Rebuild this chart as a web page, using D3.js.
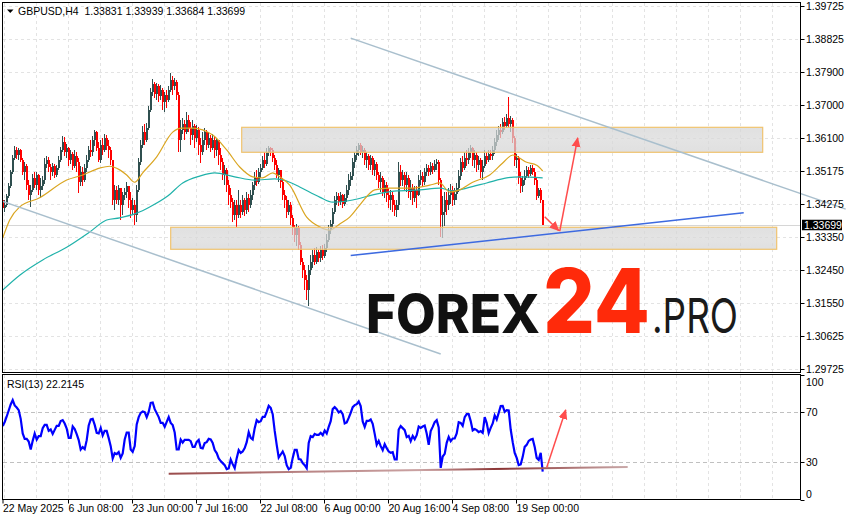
<!DOCTYPE html>
<html><head><meta charset="utf-8">
<script src="https://cdn.jsdelivr.net/npm/d3@7"></script>
<style>
html,body{margin:0;padding:0;background:#fff;}
svg{display:block;}
.t{font-family:"Liberation Sans Narrow","Liberation Sans",Arial,sans-serif;font-size:10.5px;fill:#000;}
</style></head><body>
<svg id="c" width="846" height="520"></svg>
<script>
// ---------------- DATA ----------------
const symbolTitle = "GBPUSD,H4  1.33831 1.33939 1.33684 1.33699";
const rsiTitle = "RSI(13) 22.2145";
const priceLabels = ["1.39725","1.38825","1.37900","1.37000","1.36100","1.35175","1.34275","1.33350","1.32450","1.31550","1.30625","1.29725"];
const rsiLabels = [100, 70, 30, 0];
const rsiLevels = [70, 30];
const dateLabels = ["22 May 2025","6 Jun 08:00","23 Jun 00:00","7 Jul 16:00","22 Jul 08:00","6 Aug 00:00","20 Aug 16:00","4 Sep 08:00","19 Sep 00:00"];
const dateBars = [0, 68, 132, 196, 260, 324, 388, 452, 516];
const lastPrice = 1.33699;
const firstOpen = 1.3438;
// each candle = 2 H4 bars (8h), open = previous close
const closes = [
1.3416,1.3424,1.3449,1.3476,1.3515,1.3554,1.3576,1.3562,1.3576,1.3548,
1.3515,1.3531,1.3479,1.3452,1.3466,1.3499,1.3479,1.3507,1.3466,1.3476,
1.3493,1.3537,1.3548,1.3529,1.3515,1.3531,1.3507,1.3526,1.3548,1.3576,
1.3597,1.3570,1.3581,1.3548,1.3565,1.3531,1.3559,1.3542,1.3487,1.3515,
1.3493,1.3526,1.3548,1.3576,1.3570,1.3603,1.3625,1.3581,1.3548,1.3589,
1.3576,1.3608,1.3586,1.3576,1.3548,1.3438,1.3466,1.3438,1.3471,1.3424,
1.3452,1.3460,1.3476,1.3438,1.3411,1.3424,1.3397,1.3466,1.3542,1.3589,
1.3625,1.3603,1.3636,1.3686,1.3735,1.3758,1.3730,1.3752,1.3724,1.3741,
1.3708,1.3727,1.3714,1.3741,1.3769,1.3752,1.3763,1.3727,1.3603,1.3631,
1.3647,1.3625,1.3658,1.3636,1.3617,1.3641,1.3608,1.3631,1.3589,1.3570,
1.3603,1.3625,1.3589,1.3608,1.3581,1.3603,1.3576,1.3603,1.3562,1.3542,
1.3507,1.3521,1.3479,1.3452,1.3432,1.3397,1.3424,1.3397,1.3424,1.3405,
1.3438,1.3411,1.3444,1.3424,1.3452,1.3479,1.3499,1.3487,1.3515,1.3526,
1.3548,1.3537,1.3570,1.3581,1.3576,1.3554,1.3534,1.3507,1.3521,1.3487,
1.3452,1.3438,1.3405,1.3424,1.3389,1.3361,1.3341,1.3361,1.3314,1.3267,
1.3245,1.3218,1.3190,1.3245,1.3267,1.3286,1.3267,1.3294,1.3278,1.3300,
1.3284,1.3306,1.3328,1.3355,1.3372,1.3405,1.3438,1.3449,1.3432,1.3452,
1.3427,1.3444,1.3466,1.3493,1.3504,1.3542,1.3562,1.3576,1.3589,1.3570,
1.3576,1.3548,1.3559,1.3534,1.3554,1.3521,1.3537,1.3507,1.3487,1.3499,
1.3460,1.3479,1.3452,1.3438,1.3452,1.3424,1.3411,1.3424,1.3515,1.3493,
1.3507,1.3479,1.3499,1.3460,1.3471,1.3444,1.3466,1.3452,1.3493,1.3504,
1.3487,1.3515,1.3526,1.3515,1.3531,1.3521,1.3537,1.3542,1.3493,1.3397,
1.3405,1.3438,1.3424,1.3452,1.3466,1.3438,1.3455,1.3471,1.3504,1.3542,
1.3526,1.3554,1.3548,1.3570,1.3581,1.3548,1.3562,1.3534,1.3548,1.3515,
1.3531,1.3559,1.3548,1.3565,1.3559,1.3576,1.3597,1.3617,1.3631,1.3625,
1.3653,1.3641,1.3664,1.3647,1.3658,1.3608,1.3548,1.3554,1.3499,1.3476,
1.3493,1.3504,1.3521,1.3510,1.3526,1.3515,1.3493,1.3449,1.3466,1.3438,
1.33699];
const highs = [
1.3444,1.3438,1.3455,1.3485,1.3521,1.3562,1.3586,1.3584,1.3581,1.3578,
1.3554,1.3542,1.3537,1.3493,1.3479,1.3510,1.3515,1.3515,1.3510,1.3499,
1.3504,1.3554,1.3559,1.3557,1.3537,1.3540,1.3537,1.3534,1.3559,1.3584,
1.3614,1.3612,1.3592,1.3584,1.3576,1.3570,1.3576,1.3570,1.3554,1.3531,
1.3529,1.3537,1.3562,1.3586,1.3603,1.3614,1.3631,1.3628,1.3597,1.3603,
1.3608,1.3620,1.3617,1.3603,1.3584,1.3548,1.3479,1.3476,1.3479,1.3471,
1.3460,1.3471,1.3487,1.3476,1.3460,1.3444,1.3438,1.3479,1.3554,1.3603,
1.3641,1.3647,1.3650,1.3697,1.3747,1.3772,1.3763,1.3761,1.3758,1.3755,
1.3747,1.3735,1.3741,1.3752,1.3788,1.3780,1.3774,1.3769,1.3735,1.3658,
1.3664,1.3658,1.3680,1.3672,1.3652,1.3658,1.3647,1.3644,1.3639,1.3608,
1.3625,1.3636,1.3631,1.3625,1.3617,1.3620,1.3614,1.3608,1.3603,1.3581,
1.3554,1.3534,1.3526,1.3493,1.3471,1.3444,1.3438,1.3438,1.3466,1.3438,
1.3452,1.3444,1.3460,1.3455,1.3466,1.3487,1.3515,1.3521,1.3526,1.3537,
1.3559,1.3570,1.3581,1.3586,1.3584,1.3581,1.3562,1.3548,1.3526,1.3521,
1.3499,1.3466,1.3449,1.3438,1.3432,1.3397,1.3369,1.3372,1.3366,1.3322,
1.3278,1.3259,1.3231,1.3259,1.3286,1.3300,1.3306,1.3308,1.3300,1.3311,
1.3314,1.3317,1.3344,1.3369,1.3383,1.3416,1.3449,1.3460,1.3458,1.3460,
1.3455,1.3455,1.3479,1.3510,1.3515,1.3554,1.3570,1.3586,1.3595,1.3595,
1.3586,1.3581,1.3570,1.3565,1.3562,1.3559,1.3548,1.3542,1.3515,1.3515,
1.3504,1.3493,1.3487,1.3471,1.3466,1.3460,1.3438,1.3438,1.3542,1.3534,
1.3521,1.3515,1.3515,1.3507,1.3493,1.3482,1.3476,1.3476,1.3507,1.3521,
1.3515,1.3526,1.3537,1.3534,1.3542,1.3540,1.3548,1.3551,1.3548,1.3499,
1.3449,1.3460,1.3460,1.3471,1.3482,1.3476,1.3471,1.3485,1.3521,1.3554,
1.3559,1.3570,1.3576,1.3581,1.3589,1.3584,1.3576,1.3570,1.3559,1.3554,
1.3548,1.3576,1.3570,1.3576,1.3576,1.3586,1.3608,1.3631,1.3641,1.3647,
1.3664,1.3667,1.3675,1.3722,1.3669,1.3664,1.3614,1.3565,1.3559,1.3515,
1.3504,1.3521,1.3531,1.3529,1.3534,1.3534,1.3526,1.3499,1.3471,1.3471,
1.3438];
const lows = [
1.3411,1.3405,1.3419,1.3444,1.3471,1.3510,1.3548,1.3551,1.3548,1.3542,
1.3507,1.3493,1.3466,1.3438,1.3419,1.3460,1.3471,1.3466,1.3452,1.3444,
1.3466,1.3482,1.3526,1.3515,1.3493,1.3504,1.3499,1.3502,1.3521,1.3542,
1.3570,1.3559,1.3554,1.3531,1.3537,1.3521,1.3526,1.3515,1.3458,1.3476,
1.3476,1.3487,1.3515,1.3542,1.3557,1.3559,1.3586,1.3573,1.3542,1.3540,
1.3562,1.3570,1.3576,1.3554,1.3534,1.3424,1.3411,1.3427,1.3424,1.3383,
1.3397,1.3438,1.3444,1.3416,1.3389,1.3397,1.3369,1.3378,1.3460,1.3534,
1.3581,1.3589,1.3597,1.3631,1.3680,1.3724,1.3719,1.3714,1.3708,1.3714,
1.3686,1.3680,1.3692,1.3708,1.3735,1.3727,1.3741,1.3714,1.3570,1.3570,
1.3620,1.3603,1.3620,1.3625,1.3589,1.3603,1.3581,1.3597,1.3562,1.3540,
1.3562,1.3589,1.3576,1.3581,1.3570,1.3576,1.3554,1.3559,1.3534,1.3521,
1.3493,1.3479,1.3460,1.3424,1.3416,1.3378,1.3383,1.3364,1.3389,1.3389,
1.3397,1.3394,1.3400,1.3405,1.3416,1.3438,1.3466,1.3476,1.3482,1.3499,
1.3521,1.3526,1.3531,1.3559,1.3559,1.3542,1.3521,1.3499,1.3487,1.3471,
1.3438,1.3416,1.3389,1.3397,1.3369,1.3341,1.3322,1.3311,1.3300,1.3259,
1.3223,1.3190,1.3163,1.3146,1.3231,1.3251,1.3259,1.3262,1.3267,1.3267,
1.3273,1.3278,1.3294,1.3322,1.3344,1.3361,1.3400,1.3424,1.3421,1.3424,
1.3416,1.3421,1.3432,1.3452,1.3476,1.3493,1.3526,1.3548,1.3559,1.3562,
1.3554,1.3534,1.3526,1.3521,1.3521,1.3507,1.3504,1.3493,1.3471,1.3460,
1.3449,1.3444,1.3432,1.3416,1.3411,1.3405,1.3394,1.3391,1.3411,1.3476,
1.3476,1.3466,1.3460,1.3444,1.3438,1.3424,1.3432,1.3416,1.3449,1.3479,
1.3476,1.3479,1.3504,1.3504,1.3507,1.3510,1.3515,1.3521,1.3479,1.3336,
1.3333,1.3366,1.3397,1.3411,1.3427,1.3421,1.3424,1.3438,1.3460,1.3493,
1.3515,1.3521,1.3531,1.3537,1.3554,1.3531,1.3526,1.3515,1.3521,1.3499,
1.3493,1.3526,1.3537,1.3542,1.3548,1.3548,1.3565,1.3586,1.3603,1.3608,
1.3620,1.3631,1.3636,1.3636,1.3625,1.3595,1.3531,1.3526,1.3482,1.3458,
1.3460,1.3479,1.3499,1.3499,1.3504,1.3507,1.3479,1.3438,1.3444,1.3430,
1.33684];
const rsiValues = [
58.7,62,66.4,71.2,76,79.5,75.2,73.6,71.5,64.5,
52.8,48.5,48.5,46.4,40,46.9,52.8,48,50.7,50.7,
57.1,59.7,59.7,54.9,56,52.5,55.7,58.9,58.9,62.7,
63.5,60.8,56.8,49.3,49.3,58.4,56.3,52.3,47.5,40,
41.9,40.3,47.5,59.2,64,64.5,59.7,53.3,52.8,57.3,
51.2,54.9,54.9,49.1,42.7,32.8,37.1,36.3,37.9,33.3,
36.8,48,53.6,53.6,40,38.1,42.7,60,65.9,69.3,
70.4,69.9,65.9,70.1,77.3,77.6,72.3,69.1,65.9,61.3,
61.3,58.1,62.1,65.9,61.3,59.5,53.6,40,40,48,
45.6,47.7,47.7,47.7,46.7,42.1,42.1,46.1,47.7,41.3,
40.8,45.1,45.9,48.5,48,45.3,39.5,37.1,32.8,30.7,
29.1,27.5,24.3,24.8,32,28.3,25.1,33.1,39.5,37.3,
38.4,41.1,45.9,53.9,49.3,48,57.1,63.5,61.9,62.7,
66.1,66.1,70.1,74.9,73.3,68.3,54.9,43.7,33.6,36,
38.4,34.7,27.5,24.3,25.3,33.3,39.7,39.7,32.3,32,
29.1,27.5,25.1,45.3,50.7,49.9,52.5,51.7,51.7,53.3,
51.5,55.2,52.8,58.1,62.7,72.3,73.9,72.3,69.6,70.7,
68.3,60.8,61.6,65.3,69.3,73.9,75.5,76.3,78.4,74.7,
62.4,58.1,62.9,62.9,64,60.5,52.5,43.7,46.9,42.7,
39.5,44.3,41.1,38.4,37.3,37.9,32,32,56,58.7,
57.1,55.5,49.9,50.9,46.7,50.9,48.3,51.5,58.4,57.3,
58.4,59.2,52.8,43.7,54.7,58.1,61.9,63.5,57.6,25.3,
34.4,36.5,45.3,50.1,46.7,48.8,48.8,52.8,61.9,61.3,
58.9,65.9,68.3,68.3,62.7,55.2,56.3,55.5,53.9,54.7,
53.3,65.9,61.1,53.1,57.3,60.8,67.2,64,69.3,74.7,
74.9,70.1,71.5,71.2,56,45.9,37.3,33.3,27.5,28,
34.1,42.1,43.7,46.9,48,48.5,42.1,33.3,31.7,37.3,
22.2145];
const maFastBars = [3,10,20,40,67,83,100,110,120,127,135,143,157,173,182,193,213,227,240,253,263,273,280,290,307,320,330,340,350,360,375,390,413,430,440,450,460,473,490,503,513,527,537,543];
const maFast = [1.3333,1.3383,1.3419,1.3444,1.3493,1.3507,1.3526,1.3531,1.3521,1.3507,1.3487,1.3513,1.3557,1.3625,1.3636,1.3636,1.3617,1.3576,1.3529,1.3502,1.3499,1.3513,1.3502,1.3479,1.3391,1.3364,1.3355,1.3372,1.3391,1.3424,1.3466,1.3471,1.3471,1.3479,1.3485,1.3460,1.3466,1.3487,1.3507,1.3540,1.3562,1.3542,1.3534,1.3518];
const maSlowBars = [3,20,43,67,90,107,120,137,150,168,183,200,215,235,255,275,290,300,320,333,353,373,397,420,440,453,467,487,507,520,543];
const maSlow = [1.3190,1.3231,1.3273,1.3308,1.3350,1.3383,1.3389,1.3402,1.3419,1.3449,1.3485,1.3504,1.3513,1.3502,1.3493,1.3496,1.3487,1.3474,1.3446,1.3432,1.3438,1.3452,1.3463,1.3466,1.3471,1.3463,1.3471,1.3485,1.3499,1.3502,1.3499];
// drawn objects (bar index, price)
const channelUpper = [[351, 1.3884], [846, 1.3413]];
const channelLower = [[2, 1.3435], [441, 1.3014]];
const supportLine = [[351, 1.3285], [744, 1.3403]];
const resistanceZone = {bar0: 242, bar1: 763, top: 1.36383, bottom: 1.35695};
const supportZone = {bar0: 171, bar1: 777, top: 1.33629, bottom: 1.33023};
const arrowDown = [[545, 1.3392], [559, 1.3354]];
const arrowUp = [[560, 1.3352], [578, 1.3609]];
const rsiTrend = [[169, 20.6], [628, 26.0]];
const rsiArrow = [[547, 25.6], [566, 71.6]];

// ---------------- CHART ----------------
const svg = d3.select("#c");
const x = d3.scaleLinear().domain([0, 846]).range([-0.3, 845.7]);
const y = d3.scaleLinear().domain([1.29725, 1.39725]).range([369, 6]);
const yr = d3.scaleLinear().domain([0, 100]).range([499.5, 374.5]);
const L = 2.5, R = 800.5, T = 2.5, B = 372.5, RT = 374.5, RB = 499.5;

const defs = svg.append("defs");
defs.append("clipPath").attr("id","cp").append("rect").attr("x",L+0.5).attr("y",T+0.5).attr("width",R-L-1).attr("height",B-T-1);
defs.append("clipPath").attr("id","cpr").append("rect").attr("x",L+0.5).attr("y",RT+0.5).attr("width",R-L-1).attr("height",RB-RT-1);
const mk = defs.append("marker").attr("id","ah").attr("viewBox","0 0 10 10").attr("refX",9).attr("refY",5)
  .attr("markerWidth",10).attr("markerHeight",10).attr("markerUnits","userSpaceOnUse").attr("orient","auto");
mk.append("path").attr("d","M0,0.5 L10,5 L0,9.5 Z").attr("fill","#ff4d4d");
const zg = defs.append("linearGradient").attr("id","zg").attr("x1",0).attr("y1",0).attr("x2",0).attr("y2",1);
zg.append("stop").attr("offset","0").attr("stop-color","#d4d4d4").attr("stop-opacity",0.72);
zg.append("stop").attr("offset","0.5").attr("stop-color","#d9d9d9").attr("stop-opacity",0.72);
zg.append("stop").attr("offset","1").attr("stop-color","#d4d4d4").attr("stop-opacity",0.72);
const rg = defs.append("linearGradient").attr("id","rg").attr("gradientUnits","userSpaceOnUse")
  .attr("x1",x(rsiTrend[0][0])).attr("x2",x(rsiTrend[1][0])).attr("y1",0).attr("y2",0);
[["0","#9a4b4b"],["0.3","#b98585"],["0.55","#caa2a2"],["0.72","#8a3434"],["0.85","#a86a6a"],["1","#c9a9a9"]]
  .forEach(s=>rg.append("stop").attr("offset",s[0]).attr("stop-color",s[1]));

// grid
const gridBars = d3.range(4, 800, 32);
const grid = svg.append("g").attr("stroke","#e3e3e3").attr("stroke-dasharray","3,3").attr("shape-rendering","crispEdges");
gridBars.forEach(b=>{
  const gx = Math.round(x(b))+0.5;
  if (gx > R-1) return;
  grid.append("line").attr("x1",gx).attr("x2",gx).attr("y1",T).attr("y2",B);
  grid.append("line").attr("x1",gx).attr("x2",gx).attr("y1",RT).attr("y2",RB);
});
const tickStep = (1.39725-1.29725)/(priceLabels.length-1);
priceLabels.forEach((lab,i)=>{
  const gy = Math.round(y(1.39725 - i*tickStep))+0.5;
  grid.append("line").attr("x1",L).attr("x2",R).attr("y1",gy).attr("y2",gy);
});
rsiLevels.forEach(v=>{
  const gy = Math.round(yr(v))+0.5;
  svg.append("line").attr("x1",L).attr("x2",R).attr("y1",gy).attr("y2",gy)
    .attr("stroke","#c0c0c0").attr("stroke-dasharray","4,3").attr("shape-rendering","crispEdges");
});

// bid line
svg.append("line").attr("x1",L).attr("x2",R).attr("y1",Math.round(y(lastPrice))+0.5).attr("y2",Math.round(y(lastPrice))+0.5)
  .attr("stroke","#d6d6d6").attr("shape-rendering","crispEdges");

const main = svg.append("g").attr("clip-path","url(#cp)");

// candles
const candles = closes.map((c,i)=>{
  const o = i===0 ? firstOpen : closes[i-1];
  return {bar: 2*(i+1), o, c, h: Math.max(highs[i],o,c), l: Math.min(lows[i],o,c)};
});
const cg = main.append("g").attr("shape-rendering","crispEdges");
candles.forEach(d=>{
  const col = d.c >= d.o ? "#2f4f4f" : "#ff0000";
  const bx = Math.round(x(d.bar));
  cg.append("rect").attr("x",bx).attr("width",1).attr("y",y(d.h)).attr("height",Math.max(1,y(d.l)-y(d.h))).attr("fill",col);
  const top = y(Math.max(d.o,d.c)), bot = y(Math.min(d.o,d.c));
  cg.append("rect").attr("x",bx).attr("width",2).attr("y",top).attr("height",Math.max(1,bot-top)).attr("fill",col);
});

// moving averages
const maLine = d3.line().curve(d3.curveMonotoneX);
main.append("path").attr("d",maLine(maSlowBars.map((b,i)=>[x(b),y(maSlow[i])])))
  .attr("fill","none").attr("stroke","#20b2aa").attr("stroke-width",1.2);
main.append("path").attr("d",maLine(maFastBars.map((b,i)=>[x(b),y(maFast[i])])))
  .attr("fill","none").attr("stroke","#daa520").attr("stroke-width",1.2);

// zones
[resistanceZone, supportZone].forEach(z=>{
  main.append("rect").attr("x",x(z.bar0)).attr("y",y(z.top)).attr("width",x(z.bar1)-x(z.bar0)).attr("height",y(z.bottom)-y(z.top))
    .attr("fill","url(#zg)").attr("stroke","#f0c36e").attr("stroke-width",1.2);
});

// trend lines
const pl = d3.line();
main.append("path").attr("d",pl(channelLower.map(p=>[x(p[0]),y(p[1])]))).attr("stroke","#a9bfcd").attr("stroke-width",1.5).attr("fill","none");
svg.append("path").attr("d",pl(channelUpper.map(p=>[x(p[0]),y(p[1])]))).attr("stroke","#a9bfcd").attr("stroke-width",1.5).attr("fill","none");
main.append("path").attr("d",pl(supportLine.map(p=>[x(p[0]),y(p[1])]))).attr("stroke","#3d6ae0").attr("stroke-width",1.5).attr("fill","none");
main.append("path").attr("d",pl(arrowDown.map(p=>[x(p[0]),y(p[1])]))).attr("stroke","#ff4d4d").attr("stroke-width",1.5).attr("fill","none").attr("marker-end","url(#ah)");
main.append("path").attr("d",pl(arrowUp.map(p=>[x(p[0]),y(p[1])]))).attr("stroke","#ff4d4d").attr("stroke-width",1.5).attr("fill","none").attr("marker-end","url(#ah)");

// watermark
const wm = svg.append("g").attr("font-family","Inter, Lato, 'Open Sans', sans-serif");
wm.append("text").attr("x",366).attr("y",333).attr("font-size",54).attr("font-weight",800).attr("fill","#111")
  .attr("textLength",174).attr("lengthAdjust","spacingAndGlyphs").text("FOREX");
wm.append("text").attr("x",543).attr("y",333).attr("font-size",89).attr("font-weight",800).attr("fill","#ff2a0a")
  .attr("textLength",107).attr("lengthAdjust","spacingAndGlyphs").text("24");
wm.append("text").attr("x",652).attr("y",333).attr("font-size",48).attr("font-weight",400).attr("fill","#1a1a1a")
  .attr("textLength",86).attr("lengthAdjust","spacingAndGlyphs").text(".PRO");

// RSI panel
const rsiG = svg.append("g").attr("clip-path","url(#cpr)");
rsiG.append("path").attr("d",d3.line()(rsiValues.map((v,i)=>[x(2*(i+1)+1),yr(v)])))
  .attr("fill","none").attr("stroke","#0000ff").attr("stroke-width",2.2).attr("stroke-linejoin","miter");
svg.append("path").attr("d",pl(rsiTrend.map(p=>[x(p[0]),yr(p[1])]))).attr("stroke","url(#rg)").attr("stroke-width",2).attr("fill","none");
svg.append("path").attr("d",pl(rsiArrow.map(p=>[x(p[0]),yr(p[1])]))).attr("stroke","#ff4d4d").attr("stroke-width",1.5).attr("fill","none").attr("marker-end","url(#ah)");

// frames
svg.append("rect").attr("x",L).attr("y",T).attr("width",R-L).attr("height",B-T).attr("fill","none").attr("stroke","#000");
svg.append("rect").attr("x",L).attr("y",RT).attr("width",R-L).attr("height",RB-RT).attr("fill","none").attr("stroke","#000");

// price axis
priceLabels.forEach((lab,i)=>{
  const gy = Math.round(y(1.39725 - i*tickStep))+0.5;
  svg.append("line").attr("x1",R).attr("x2",R+4).attr("y1",gy).attr("y2",gy).attr("stroke","#000");
  svg.append("text").attr("class","t").attr("x",806).attr("y",gy+3.8).text(lab);
});
// last price tag
const ly = y(lastPrice);
svg.append("rect").attr("x",802).attr("y",ly-5).attr("width",40).attr("height",10.5).attr("fill","#000");
svg.append("text").attr("class","t").attr("x",804).attr("y",ly+3.8).attr("fill","#fff").style("fill","#fff").text(lastPrice.toFixed(5));

// RSI axis
rsiLabels.forEach(v=>{
  const gy = Math.round(yr(v))+0.5;
  svg.append("line").attr("x1",R).attr("x2",R+4).attr("y1",gy).attr("y2",gy).attr("stroke","#000");
  let ty = gy+3.8;
  if (v===100) ty = gy+10.5;
  if (v===0) ty = gy-3;
  svg.append("text").attr("class","t").attr("x",806).attr("y",ty).text(v);
});

// date axis
dateLabels.forEach((lab,i)=>{
  const tx = Math.max(L+0.5, Math.round(x(dateBars[i]))+0.5);
  svg.append("line").attr("x1",tx).attr("x2",tx).attr("y1",RB).attr("y2",RB+4).attr("stroke","#000");
  svg.append("text").attr("class","t").attr("x",tx).attr("y",512).text(lab);
});

// titles
svg.append("path").attr("d","M7,9.5 L13.5,9.5 L10.25,13 Z").attr("fill","#000");
svg.append("text").attr("class","t").attr("x",18).attr("y",14.5).attr("xml:space","preserve").style("white-space","pre").text(symbolTitle);
svg.append("text").attr("class","t").attr("x",7).attr("y",387.5).text(rsiTitle);
</script>
</body></html>
